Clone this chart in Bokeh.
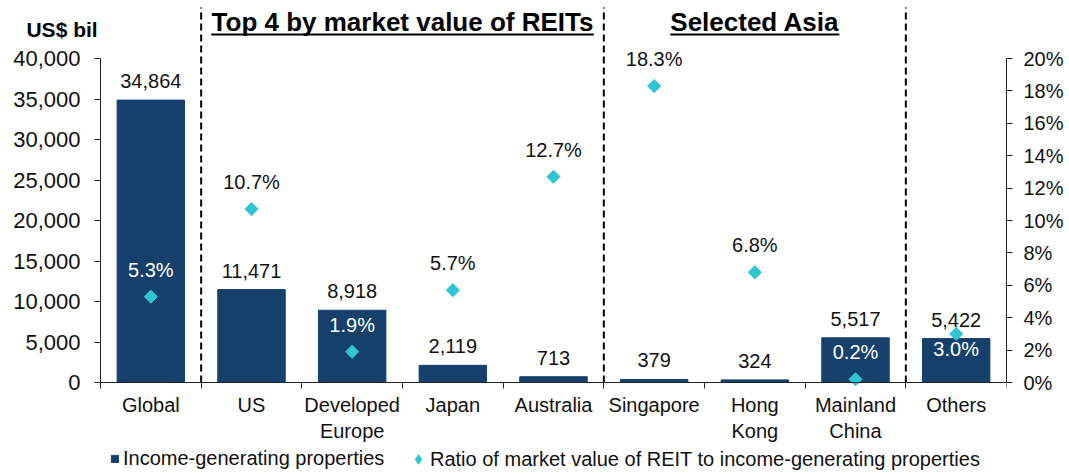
from bokeh.plotting import figure
from bokeh.models import (Range1d, LinearAxis, FixedTicker, NumeralTickFormatter,
                          PrintfTickFormatter, ColumnDataSource, Label, LabelSet,
                          Legend, LegendItem)
from bokeh.core.properties import value
from bokeh.embed import file_html
from bokeh.resources import INLINE

# ---------------- data ----------------
categories = ["Global", "US", "Developed Europe", "Japan", "Australia",
              "Singapore", "Hong Kong", "Mainland China", "Others"]
tick_labels = ["Global", "US", "Developed\nEurope", "Japan", "Australia",
               "Singapore", "Hong\nKong", "Mainland\nChina", "Others"]
income_props = [34864, 11471, 8918, 2119, 713, 379, 324, 5517, 5422]      # US$ bil
reit_ratio = [5.3, 10.7, 1.9, 5.7, 12.7, 18.3, 6.8, 0.2, 3.0]              # %
left_ticks = [0, 5000, 10000, 15000, 20000, 25000, 30000, 35000, 40000]
right_ticks = [0, 2, 4, 6, 8, 10, 12, 14, 16, 18, 20]
group_titles = ["Top 4 by market value of REITs", "Selected Asia"]
group_bounds = [(1, 5), (5, 8)]          # category boundaries of each group
dividers = [1, 5, 8]                     # dashed separators (category boundaries)
series_names = ["Income-generating properties",
                "Ratio of market value of REIT to income-generating properties"]

# ---------------- style / layout ----------------
FONT = "Liberation Sans"
BAR = "#16406C"
DIA = "#2FC5D2"
TXT = "#111111"
FS = "20px"
LEFT_MAX = 40000
RIGHT_MAX = 20
n = len(categories)

# frame covers the whole canvas except the right-axis panel;
# the left and bottom axes are pinned at data 0 (fixed_location)
FRAME_W, FRAME_H = 1006, 474
PX_X = 906 / n                 # pixels per category
PX_Y = 324 / LEFT_MAX          # pixels per US$ bil
X_LEFT = -100 / PX_X
Y_TOP = LEFT_MAX + 58 / PX_Y
Y_BOT = -(FRAME_H - 382) / PX_Y
Y_DASH_TOP = LEFT_MAX + 51 / PX_Y
Y_TITLE = LEFT_MAX + 37 / PX_Y
Y_ULINE = LEFT_MAX + 24 / PX_Y
Y_UNIT = LEFT_MAX + 29 / PX_Y
R = RIGHT_MAX / LEFT_MAX

ratio_label_color = ["white", TXT, "white", TXT, TXT, TXT, TXT, "white", "white"]
ratio_label_offset = [20, 20, 20, 20, 20, 20, 20, 20, -22]

xs = [i + 0.5 for i in range(n)]

src = ColumnDataSource(dict(
    x=xs, value=income_props, ratio=reit_ratio,
    value_text=[f"{v:,}" for v in income_props],
    ratio_text=[f"{r:.1f}%" for r in reit_ratio],
    ratio_color=ratio_label_color, ratio_off=ratio_label_offset,
))

p = figure(frame_width=FRAME_W, frame_height=FRAME_H,
           x_range=Range1d(X_LEFT, n), y_range=Range1d(Y_BOT, Y_TOP),
           output_backend="svg", toolbar_location=None,
           min_border_left=0, min_border_right=63, min_border_top=0,
           min_border_bottom=0)
p.extra_y_ranges = {"ratio": Range1d(Y_BOT * R, Y_TOP * R)}
p.outline_line_color = None
p.xgrid.visible = False
p.ygrid.visible = False

bars = p.vbar(x="x", top="value", width=0.67, source=src,
              fill_color=BAR, line_color=BAR)
dia = p.scatter(x="x", y="ratio", source=src, y_range_name="ratio",
                marker="square", angle=0.785398, size=9.3,
                fill_color=DIA, line_color=DIA)
# legend proxy (legend glyphs ignore marker angle, so use a diamond marker)
dia_key = p.scatter(x=[float("nan")], y=[float("nan")], y_range_name="ratio",
                    marker="diamond", fill_color=DIA, line_color=DIA)

# value labels above bars
p.add_layout(LabelSet(x="x", y="value", text="value_text", source=src,
                      y_offset=12, text_align="center", text_baseline="alphabetic",
                      text_font=value(FONT), text_font_size=FS, text_color=TXT))
# ratio labels
p.add_layout(LabelSet(x="x", y="ratio", text="ratio_text", source=src,
                      y_range_name="ratio", y_offset="ratio_off",
                      text_align="center", text_baseline="alphabetic",
                      text_font=value(FONT), text_font_size=FS,
                      text_color="ratio_color"))

# dashed separators (from the x axis up to the top)
p.segment(x0=dividers, x1=dividers, y0=[0] * len(dividers),
          y1=[Y_DASH_TOP] * len(dividers), line_color="black",
          line_width=2, line_dash="7 4")

# group titles (bold, underlined)
title_w = [3.80, 1.68]
for t, (a, b), w in zip(group_titles, group_bounds, title_w):
    c = (a + b) / 2
    p.add_layout(Label(x=c, y=Y_TITLE, text=t, text_align="center",
                       text_baseline="middle", text_font=FONT,
                       text_font_style="bold", text_font_size="26px",
                       text_color="black"))
    p.segment(x0=[c - w / 2], x1=[c + w / 2], y0=[Y_ULINE], y1=[Y_ULINE],
              line_color="black", line_width=2)

p.add_layout(Label(x=-0.382, y=Y_UNIT, text="US$ bil", text_align="center",
                   text_baseline="middle", text_font=FONT,
                   text_font_style="bold", text_font_size="21px",
                   text_color="black"))

# axes
yl = p.yaxis[0]
yl.ticker = FixedTicker(ticks=left_ticks)
yl.formatter = NumeralTickFormatter(format="0,0")
yl.bounds = (0, LEFT_MAX)
yl.fixed_location = 0
yl.major_label_standoff = 14
yl.major_label_text_font_size = "22px"

yr = LinearAxis(y_range_name="ratio", ticker=FixedTicker(ticks=right_ticks),
                formatter=PrintfTickFormatter(format="%d%%"), bounds=(0, RIGHT_MAX))
p.add_layout(yr, "right")
yr.major_label_standoff = 11
yr.major_label_text_font_size = FS

xa = p.xaxis[0]
xa.ticker = FixedTicker(ticks=xs, minor_ticks=[float(i) for i in range(n + 1)])
xa.major_label_overrides = {x: l for x, l in zip(xs, tick_labels)}
xa.bounds = (0, n)
xa.fixed_location = 0
xa.major_tick_out = 0
xa.major_tick_in = 0
xa.minor_tick_out = 6
xa.minor_tick_in = 0
xa.major_label_standoff = 5
xa.major_label_text_font_size = FS

for ax in (yl, yr):
    ax.major_tick_out = 6
    ax.major_tick_in = 0
    ax.minor_tick_out = 0
    ax.minor_tick_in = 0

for ax in (xa, yl, yr):
    ax.axis_line_color = "#222222"
    ax.major_tick_line_color = "#222222"
    ax.minor_tick_line_color = "#222222"
    ax.major_label_text_font = FONT
    ax.major_label_text_color = TXT

legend_style = dict(orientation="horizontal", label_text_font=FONT,
                    label_text_font_size=FS, label_text_color=TXT,
                    padding=0, margin=0, border_line_color=None,
                    background_fill_alpha=0, label_height=20)
legend_bar = Legend(items=[LegendItem(label=series_names[0], renderers=[bars])],
                    location=(110, 4), glyph_width=9, glyph_height=9,
                    label_standoff=4, **legend_style)
legend_dia = Legend(items=[LegendItem(label=series_names[1], renderers=[dia_key])],
                    location=(406, 3), glyph_width=24, glyph_height=24,
                    label_standoff=0, **legend_style)
p.add_layout(legend_bar, "center")
p.add_layout(legend_dia, "center")

open("out.html", "w").write(file_html(p, INLINE))
